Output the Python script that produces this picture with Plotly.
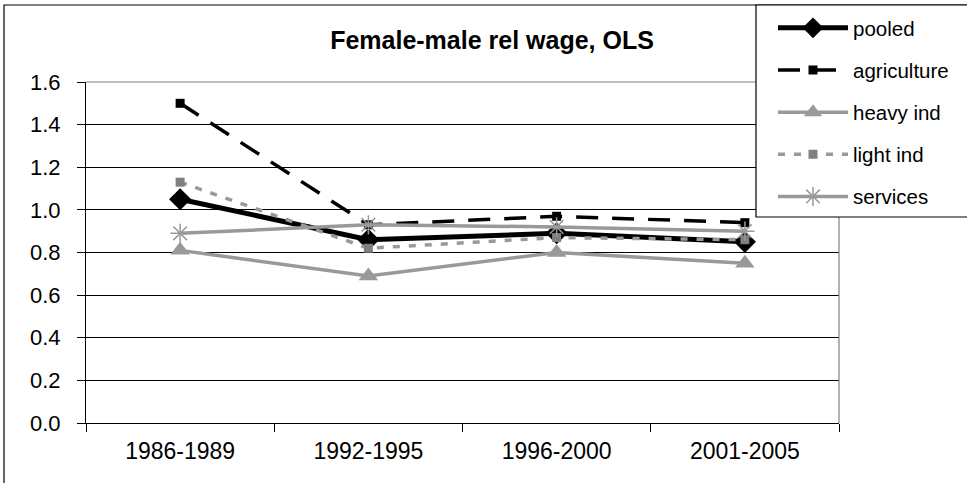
import plotly.graph_objects as go

periods = ["1986-1989", "1992-1995", "1996-2000", "2001-2005"]
pooled = [1.05, 0.86, 0.89, 0.85]
agriculture = [1.50, 0.93, 0.97, 0.94]
heavy_ind = [0.81, 0.69, 0.80, 0.75]
light_ind = [1.13, 0.82, 0.87, 0.86]
services = [0.89, 0.93, 0.92, 0.90]
y_ticks = [0.0, 0.2, 0.4, 0.6, 0.8, 1.0, 1.2, 1.4, 1.6]

W, H = 967, 483
L, R, T, B = 86, 839, 82, 423
FONT = "Liberation Sans, Arial, sans-serif"
GRAY = "#999999"

def px_x(x):
    return (x - L) / (R - L)

def px_y(y):
    return (B - y) / (B - T)

fig = go.Figure()
fig.add_trace(go.Scatter(x=periods, y=pooled, name="pooled", mode="lines+markers",
                         legendgroup="a",
                         line=dict(color="black", width=5),
                         marker=dict(symbol="diamond", size=17, color="black")))
fig.add_trace(go.Scatter(x=periods, y=agriculture, name="agriculture", mode="lines+markers",
                         legendgroup="b",
                         line=dict(color="black", width=3.5, dash="22px,14px"),
                         marker=dict(symbol="square", size=9, color="black")))
fig.add_trace(go.Scatter(x=periods, y=heavy_ind, name="heavy ind", mode="lines+markers",
                         legendgroup="c",
                         line=dict(color=GRAY, width=3.5),
                         marker=dict(symbol="triangle-up", size=17, color=GRAY)))
fig.add_trace(go.Scatter(x=periods, y=light_ind, name="light ind", mode="lines+markers",
                         legendgroup="d",
                         line=dict(color=GRAY, width=3.5, dash="7px,9px"),
                         marker=dict(symbol="square", size=9, color="#808080")))
fig.add_trace(go.Scatter(x=periods, y=services, name="services", mode="lines+markers",
                         legendgroup="e",
                         line=dict(color=GRAY, width=3.5),
                         marker=dict(symbol="asterisk-open", size=16,
                                     line=dict(color=GRAY, width=1.5))))

shapes = [
    # outer chart frame
    dict(type="rect", xref="paper", yref="paper",
         x0=px_x(4), x1=px_x(1000), y0=px_y(520), y1=px_y(5),
         line=dict(color="black", width=1.2), layer="below"),
    # plot-area border top/right (gray)
    dict(type="line", xref="paper", yref="paper", x0=0, x1=1, y0=1, y1=1,
         line=dict(color="#808080", width=1.2)),
    dict(type="line", xref="paper", yref="paper", x0=1, x1=1, y0=0, y1=1,
         line=dict(color="#808080", width=1.2)),
    # legend box
    dict(type="rect", xref="paper", yref="paper",
         x0=px_x(756), x1=px_x(1000), y0=px_y(217), y1=px_y(5),
         line=dict(color="black", width=1.2), fillcolor="white", layer="above"),
]

fig.update_layout(
    width=W, height=H,
    margin=dict(l=L, r=W - R, t=T, b=H - B, autoexpand=False),
    paper_bgcolor="white", plot_bgcolor="white",
    font=dict(family=FONT, color="black", size=22),
    title=dict(text="<b>Female-male rel wage, OLS</b>", x=492 / W, xanchor="center",
               y=1 - 40 / H, yanchor="middle", font=dict(size=25, family=FONT)),
    showlegend=True,
    legend=dict(xref="container", yref="container", x=773 / W, y=1 - 8 / H,
                xanchor="left", yanchor="top", bgcolor="rgba(0,0,0,0)",
                borderwidth=0, font=dict(size=20.5, family=FONT),
                itemwidth=70, tracegroupgap=12.5, traceorder="grouped"),
    shapes=shapes,
)
fig.update_xaxes(type="category", range=[-0.5, 3.5], showgrid=False,
                 showline=True, linecolor="black", linewidth=1.2,
                 ticks="outside", tickson="boundaries", ticklen=8, tickcolor="black",
                 tickfont=dict(size=23), ticklabelstandoff=7)
fig.update_yaxes(range=[0, 1.6], tickvals=y_ticks, tickformat=".1f",
                 showgrid=True, gridcolor="black", gridwidth=1,
                 showline=True, linecolor="black", linewidth=1.2,
                 ticks="outside", ticklen=8, tickcolor="black",
                 tickfont=dict(size=22), ticklabelstandoff=12, zeroline=False)

fig.write_html("out.html", config={"displayModeBar": False},
               post_script="document.body.style.margin='0';document.body.style.overflow='hidden';")
